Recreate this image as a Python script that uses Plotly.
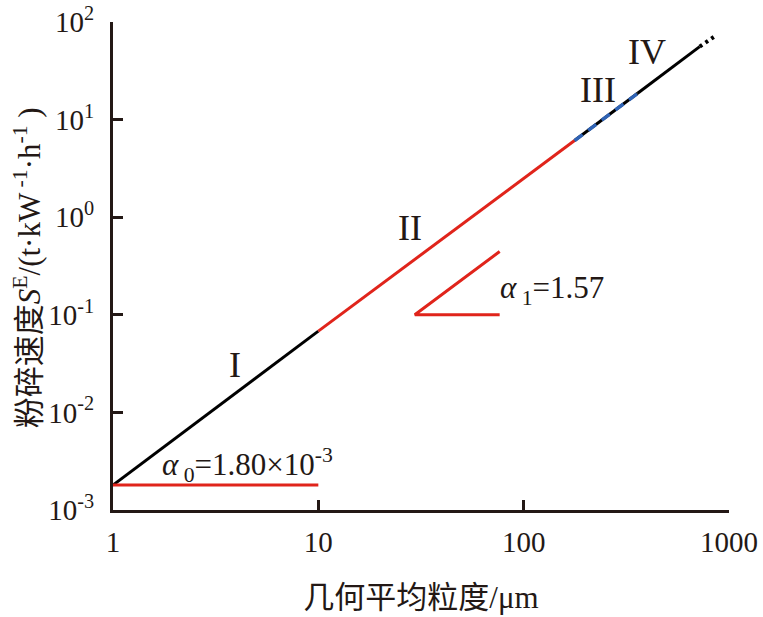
import plotly.graph_objects as go

# segment boundaries (x in um, y in t/(kW h))
seg_x = [1, 10, 177, 359, 720, 850]
seg_y = [1.8e-3, 0.068, 6.1, 18.6, 56, 71]

# reference lines for the fitted coefficients
alpha0_x = [1, 10]
alpha0_y = [1.8e-3, 1.8e-3]
slope_x = [76.4, 29.5, 76.4]
slope_y = [0.445, 0.1, 0.1]

x_ticks = [1, 10, 100, 1000]
x_ticktext = ["1", "10", "100", "1000"]
y_ticks = [1e-3, 1e-2, 1e-1, 1e0, 1e1, 1e2]
y_ticktext = ["10<sup>-3</sup>", "10<sup>-2</sup>", "10<sup>-1</sup>",
              "10<sup>0</sup>", "10<sup>1</sup>", "10<sup>2</sup>"]

BLACK = "#000000"
RED = "#e0241b"
BLUE = "#2f63b5"
INK = "#231815"
SERIF = "Liberation Serif, Times New Roman, serif"
CJK = "Noto Sans CJK SC, sans-serif"

fig = go.Figure()


def seg(i, j, color, dash="solid", width=3):
    fig.add_trace(go.Scatter(
        x=seg_x[i:j + 1], y=seg_y[i:j + 1], mode="lines",
        line=dict(color=color, width=width, dash=dash),
        showlegend=False, hoverinfo="skip",
    ))


seg(0, 1, BLACK)
seg(1, 2, RED)
seg(2, 3, BLACK)
seg(2, 3, BLUE, dash="10px,7px", width=3.5)
seg(3, 4, BLACK)
seg(4, 5, BLACK, dash="3px,4px", width=4)

fig.add_trace(go.Scatter(x=alpha0_x, y=alpha0_y, mode="lines",
                         line=dict(color=RED, width=3),
                         showlegend=False, hoverinfo="skip"))
fig.add_trace(go.Scatter(x=slope_x, y=slope_y, mode="lines",
                         line=dict(color=RED, width=3),
                         showlegend=False, hoverinfo="skip"))

roman = [("I", 0.594, -1.513), ("II", 1.445, -0.108),
         ("III", 2.36, 1.308), ("IV", 2.603, 1.697)]
for txt, ax, ay in roman:
    fig.add_annotation(x=ax, y=ay, text=txt, showarrow=False,
                       font=dict(family=SERIF, size=36, color=INK))

fig.add_annotation(x=0.229, y=-2.54, xanchor="left", yanchor="middle",
                   text="<i>α</i><sub> 0</sub>=1.80×10<sup>-3</sup>",
                   showarrow=False,
                   font=dict(family=SERIF, size=31, color=INK))
fig.add_annotation(x=1.873, y=-0.744, xanchor="left", yanchor="middle",
                   text="<i>α</i><sub> 1</sub>=1.57",
                   showarrow=False,
                   font=dict(family=SERIF, size=31, color=INK))

ser = "<span style='font-family:Liberation Serif'>"
ser_i = "<span style='font-family:Liberation Serif;font-style:italic'>"
ytitle = ("粉碎速度" + ser_i + "S</span>" + ser + "<sup>E</sup>/(t·kW<sup> -1</sup>"
          "·h<sup>-1</sup> )</span>")
# y axis title as a rotated annotation
fig.add_annotation(xref="paper", yref="paper", x=-0.14, y=0.497,
                   xanchor="center", yanchor="middle", textangle=-90,
                   text=ytitle, showarrow=False,
                   font=dict(family=CJK, size=31, color=INK))

axis_common = dict(
    showgrid=False, zeroline=False, showline=True, linecolor=INK,
    linewidth=3, ticks="inside", ticklen=10, tickwidth=3,
    tickcolor=INK, mirror=False, automargin=False,
    tickfont=dict(family=SERIF, size=29, color=INK),
)

fig.update_xaxes(type="log", range=[0, 3], tickvals=x_ticks,
                 ticktext=x_ticktext, ticklabelstandoff=4,
                 title=dict(text="几何平均粒度" + ser + "/μm</span>", standoff=32,
                            font=dict(family=CJK, size=31, color=INK)),
                 **axis_common)
fig.update_yaxes(type="log", range=[-3, 2], tickvals=y_ticks,
                 ticktext=y_ticktext, ticklabelstandoff=10,
                 **axis_common)

fig.update_layout(
    width=763, height=617,
    margin=dict(l=113, r=34, t=22, b=107),
    plot_bgcolor="white", paper_bgcolor="white",
)

fig.write_html("out.html", config={"displayModeBar": False},
               post_script="document.body.style.margin='0';")
